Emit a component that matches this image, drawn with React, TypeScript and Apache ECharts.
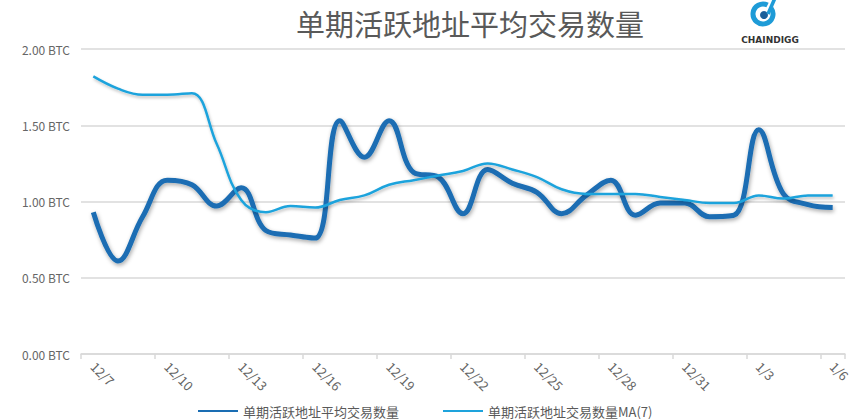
import React, { useEffect, useRef } from "react";
import * as echarts from "echarts";

const categories = [
  "12/7", "12/8", "12/9", "12/10", "12/11", "12/12", "12/13", "12/14", "12/15", "12/16",
  "12/17", "12/18", "12/19", "12/20", "12/21", "12/22", "12/23", "12/24", "12/25", "12/26",
  "12/27", "12/28", "12/29", "12/30", "12/31", "1/1", "1/2", "1/3", "1/4", "1/5", "1/6",
];

const avgTx = [
  0.93, 0.61, 0.90, 1.14, 1.11, 0.97, 1.09, 0.81, 0.78, 0.76,
  1.53, 1.29, 1.53, 1.19, 1.16, 0.92, 1.21, 1.12, 1.06, 0.92,
  1.04, 1.14, 0.91, 0.99, 0.99, 0.90, 0.91, 1.47, 1.05, 0.98, 0.96,
];

const ma7 = [
  1.82, 1.74, 1.70, 1.70, 1.71, 1.38, 1.01, 0.93, 0.97, 0.96,
  1.01, 1.04, 1.11, 1.14, 1.17, 1.20, 1.25, 1.21, 1.16, 1.08,
  1.05, 1.05, 1.05, 1.03, 1.01, 0.99, 0.99, 1.04, 1.02, 1.04, 1.04,
];

const seriesNames = ["单期活跃地址平均交易数量", "单期活跃地址交易数量MA(7)"];
const titleText = "单期活跃地址平均交易数量";

export default function App() {
  const ref = useRef<HTMLDivElement>(null);
  useEffect(() => {
    document.body.style.margin = "0";
    const chart = echarts.init(ref.current!, null, { renderer: "svg" });
    const font = "'Noto Sans CJK SC', 'Noto Sans', sans-serif";
    chart.setOption({
      animation: false,
      backgroundColor: "#ffffff",
      textStyle: { fontFamily: font },
      title: {
        text: titleText,
        left: 291,
        top: 3,
        textStyle: { fontSize: 29, fontWeight: "normal", color: "#595959", fontFamily: font },
      },
      legend: {
        left: 193,
        top: 399,
        itemWidth: 40,
        itemHeight: 12,
        itemGap: 44,
        icon: "path://M0,5 L40,5 L40,7 L0,7 Z",
        textStyle: { fontSize: 13, lineHeight: 14, color: "#595959", fontFamily: font },
        data: seriesNames,
      },
      grid: { left: 81, right: 19, top: 49, bottom: 65 },
      xAxis: {
        type: "category",
        data: categories,
        boundaryGap: true,
        axisLine: { lineStyle: { color: "#d9d9d9", width: 1.5 } },
        axisTick: { show: true, interval: 2, length: 5, lineStyle: { color: "#d9d9d9", width: 1.5 } },
        axisLabel: {
          interval: 2,
          rotate: -45,
          color: "#666666",
          fontSize: 13,
          margin: 10,
          fontFamily: font,
        },
      },
      yAxis: {
        type: "value",
        min: 0,
        max: 2,
        interval: 0.5,
        axisLine: { show: false },
        axisTick: { show: false },
        axisLabel: {
          color: "#666666",
          fontSize: 12,
          margin: 11,
          fontFamily: font,
          formatter: (v: number) => v.toFixed(2) + " BTC",
        },
        splitLine: { lineStyle: { color: "#d9d9d9", width: 1.5 } },
      },
      series: [
        {
          name: seriesNames[0],
          type: "line",
          data: avgTx,
          smooth: 0.4,
          symbol: "none",
          z: 3,
          itemStyle: { color: "#1a6db3" },
          lineStyle: {
            color: "#1a6db3",
            width: 5,
            shadowColor: "rgba(0,0,0,0.35)",
            shadowBlur: 4,
            shadowOffsetX: 1,
            shadowOffsetY: 2,
          },
        },
        {
          name: seriesNames[1],
          type: "line",
          data: ma7,
          smooth: 0.4,
          symbol: "none",
          z: 4,
          itemStyle: { color: "#1ea3dc" },
          lineStyle: {
            color: "#1ea3dc",
            width: 2.5,
            shadowColor: "rgba(0,0,0,0.25)",
            shadowBlur: 3,
            shadowOffsetX: 1,
            shadowOffsetY: 2,
          },
        },
      ],
      graphic: [
        {
          type: "arc",
          shape: { cx: 763, cy: 14, r: 10, startAngle: -Math.PI * 0.2, endAngle: Math.PI * 1.65, clockwise: true },
          style: { stroke: "#1e9bd7", lineWidth: 5, fill: "none" },
        },
        {
          type: "circle",
          shape: { cx: 764, cy: 15, r: 4 },
          style: { fill: "#1a5f9a" },
        },
        {
          type: "line",
          shape: { x1: 768, y1: 14, x2: 775, y2: -2 },
          style: { stroke: "#1e9bd7", lineWidth: 3.5 },
        },
        {
          type: "text",
          x: 770,
          y: 40,
          style: {
            text: "CHAINDIGG",
            fontSize: 9,
            fontWeight: "bold",
            fill: "#333333",
            align: "center",
            verticalAlign: "middle",
            fontFamily: "'DejaVu Sans', sans-serif",
          },
        },
      ],
    });
    return () => chart.dispose();
  }, []);
  return <div ref={ref} style={{ width: 864, height: 419 }} />;
}
